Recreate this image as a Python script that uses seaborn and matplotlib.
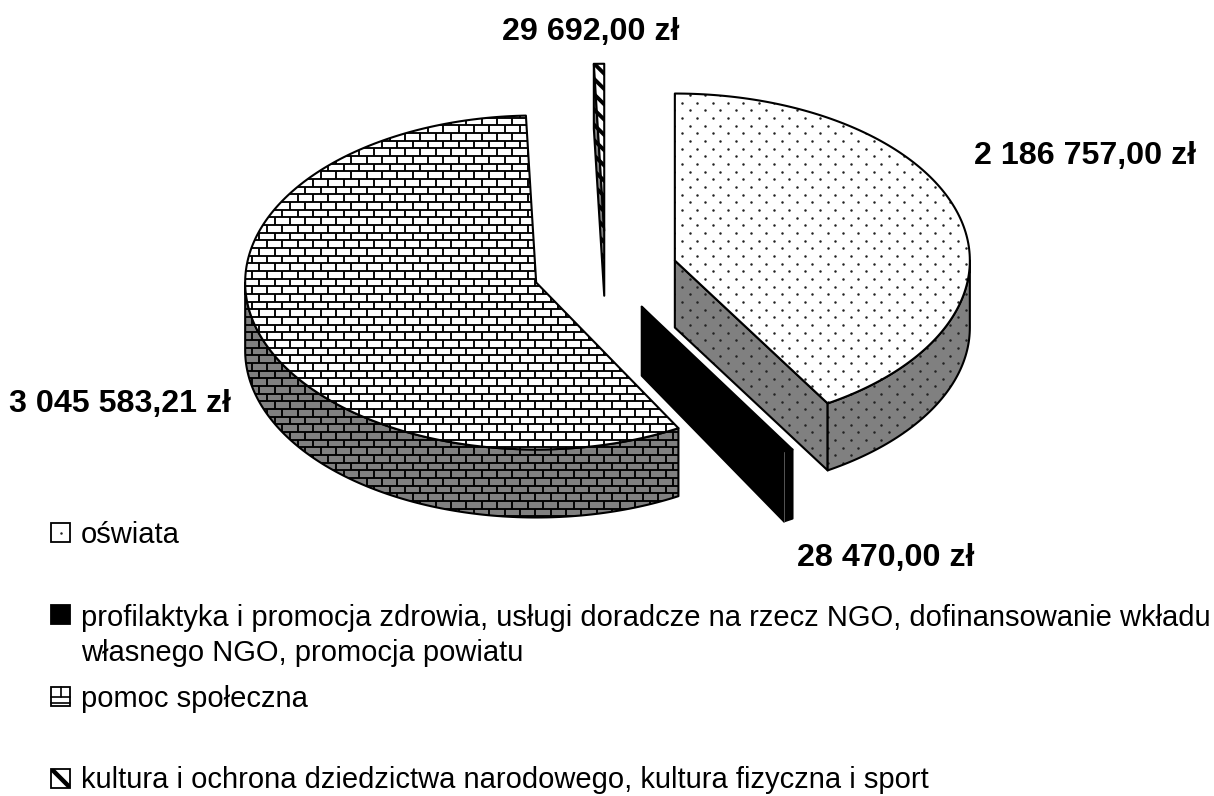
import numpy as np
import matplotlib
matplotlib.use('Agg')
import matplotlib.pyplot as plt
import seaborn as sns
from matplotlib.collections import LineCollection
from matplotlib.patches import Polygon, Rectangle

categories = [
    'oświata',
    'profilaktyka i promocja zdrowia, usługi doradcze na rzecz NGO, dofinansowanie wkładu\nwłasnego NGO, promocja powiatu',
    'pomoc społeczna',
    'kultura i ochrona dziedzictwa narodowego, kultura fizyczna i sport',
]
values = [2186757.00, 28470.00, 3045583.21, 29692.00]
value_labels = ['2 186 757,00 zł', '28 470,00 zł', '3 045 583,21 zł', '29 692,00 zł']
styles = ['dots', 'solid', 'bricks', 'diag']

sns.set_style('white')
plt.rcParams['font.family'] = ['Liberation Sans', 'DejaVu Sans']
grey = sns.color_palette(['#808080'])[0]

W, H = 1214, 796
fig = plt.figure(figsize=(W / 100, H / 100), dpi=100)
ax = fig.add_axes([0, 0, 1, 1])
ax.set_xlim(0, W)
ax.set_ylim(H, 0)
ax.axis('off')

# pie geometry, in pixels (top surface ellipse, wall height, explosion)
cx, cy = 605.5, 271.5
rx_main, ry = 295, 167
rx_by_style = {'dots': 295, 'solid': 291, 'bricks': 291, 'diag': 295}
depth_by_style = {'dots': 67, 'solid': 69, 'bricks': 68, 'diag': 65}
explode = 72
LW = 1.5


def pt(ox, oy, t, rx):
    return ox + rx * np.sin(t), oy - ry * np.cos(t)


def arc(ox, oy, t0, t1, rx):
    n = max(2, int(abs(t1 - t0) * 60))
    t = np.linspace(t0, t1, n)
    return np.column_stack(pt(ox, oy, t, rx))


def fill_pattern(patch, style, zorder):
    # pattern drawn on top of the patch and clipped to it
    segs = []
    if style == 'bricks':
        for i, y in enumerate(np.arange(286.3 - 7.67 * 40, 800, 7.67)):
            segs.append([(0, y), (W, y)])
            x0 = 251.7 + (7.67 if i % 2 else 0)
            for x in np.arange(x0 - 15.33 * 20, W, 15.33):
                segs.append([(x, y), (x, y + 7.67)])
        lw = 1.35
    elif style == 'diag':
        for y in np.arange(-200, 400, 15.3):
            segs.append([(560, y), (660, y + 100)])
        lw = 2.8
    elif style == 'dots':
        xs, ys = [], []
        for i, y in enumerate(np.arange(110.3 - 7.67 * 10, 600, 7.67)):
            x0 = 682 + (7.67 if i % 2 == 0 else 0)
            for x in np.arange(x0 - 15.33 * 10, 1100, 15.33):
                xs.append(x)
                ys.append(y)
        dots = ax.scatter(xs, ys, s=3.2, c='#222222', linewidths=0, zorder=zorder)
        dots.set_clip_path(patch)
        return
    else:
        return
    lines = LineCollection(segs, colors='black', linewidths=lw, zorder=zorder)
    ax.add_collection(lines)
    lines.set_clip_path(patch)


def face(points, fc, style, zorder):
    patch = Polygon(points, closed=True, facecolor=fc, edgecolor='none', zorder=zorder)
    ax.add_patch(patch)
    fill_pattern(patch, style, zorder + 0.1)
    outline = Polygon(points, closed=True, facecolor='none', edgecolor='black',
                      linewidth=LW, joinstyle='round', zorder=zorder + 0.2)
    ax.add_patch(outline)


def draw_slice(t0, t1, style, zorder):
    mid = (t0 + t1) / 2
    ox = cx + explode * np.sin(mid)
    oy = cy - explode * np.cos(mid) * ry / rx_main
    rx = rx_by_style[style]
    depth = depth_by_style[style]
    top_fc = 'black' if style == 'solid' else 'white'
    wall_fc = 'black' if style == 'solid' else grey
    z = zorder

    # radial faces first, they sit behind the outer wall
    for t in (t0, t1):
        a = (ox, oy)
        b = pt(ox, oy, t, rx)
        shown = (t == t1 and 0 < np.sin(t1) and np.cos(t1) < 0) or (t == t0 and t0 > np.pi * 1.9)
        if shown:
            face([a, b, (b[0], b[1] + depth), (a[0], a[1] + depth)], wall_fc, style, z)
            z += 1
    # outer wall only where it faces the viewer
    w0, w1 = max(t0, np.pi / 2), min(t1, 3 * np.pi / 2)
    if w1 > w0:
        up = arc(ox, oy, w0, w1, rx)
        down = up[::-1] + [0, depth]
        face(np.vstack([up, down]), wall_fc, style, z)
        z += 1
    top = np.vstack([[(ox, oy)], arc(ox, oy, t0, t1, rx)])
    face(top, top_fc, style, z)


shares = np.array(values) / sum(values)
edges = np.concatenate([[0], np.cumsum(shares)]) * 2 * np.pi
order = [3, 2, 0, 1]  # back to front
for n, i in enumerate(order):
    draw_slice(edges[i], edges[i + 1], styles[i], 2 + n * 5)

# thin line between the black wall and its end
mid_b = (edges[1] + edges[2]) / 2
bx = cx + explode * np.sin(mid_b)
by = cy - explode * np.cos(mid_b) * ry / rx_main
lx, ly = pt(bx, by, edges[2], rx_by_style['solid'])
ax.plot([lx, lx], [ly, ly + depth_by_style['solid']], color='#555555', lw=0.7, zorder=40)

# value labels
label_pos = [(1085, 156), (886, 558), (120, 404), (591, 32)]
for s, (x, y) in zip(value_labels, label_pos):
    ax.text(x, y, s, ha='center', va='center', fontsize=23.2, fontweight='bold', color='black')

# legend
legend_y = [532.5, 614.5, 696.5, 778]
baselines = [543, 661, 707, 788]
for name, style, y, base in zip(categories, styles, legend_y, baselines):
    x0, x1 = 51, 70
    y0, y1 = y - 9.5, y + 9.5
    fc = 'black' if style == 'solid' else 'white'
    rect = Rectangle((x0, y0), x1 - x0, y1 - y0, fc=fc, ec='black', lw=1.3, zorder=3)
    ax.add_patch(rect)
    if style == 'dots':
        ax.scatter([(x0 + x1) / 2], [y], s=3.2, c='#222222', linewidths=0, zorder=4)
    elif style == 'bricks':
        ax.plot([x0, x1], [y, y], color='black', lw=1.2, zorder=4)
        ax.plot([(x0 + x1) / 2] * 2, [y0, y], color='black', lw=1.2, zorder=4)
        ax.plot([x0, x1], [y + 6, y + 6], color='black', lw=1.2, zorder=4)
    elif style == 'diag':
        ln, = ax.plot([x0, x1], [y0, y1], color='black', lw=3.2, zorder=4)
        ln.set_clip_path(rect)
    ax.text(81, base, name, ha='left', va='baseline', fontsize=21, color='black', linespacing=1.34)

plt.savefig('out.png', dpi=100)
